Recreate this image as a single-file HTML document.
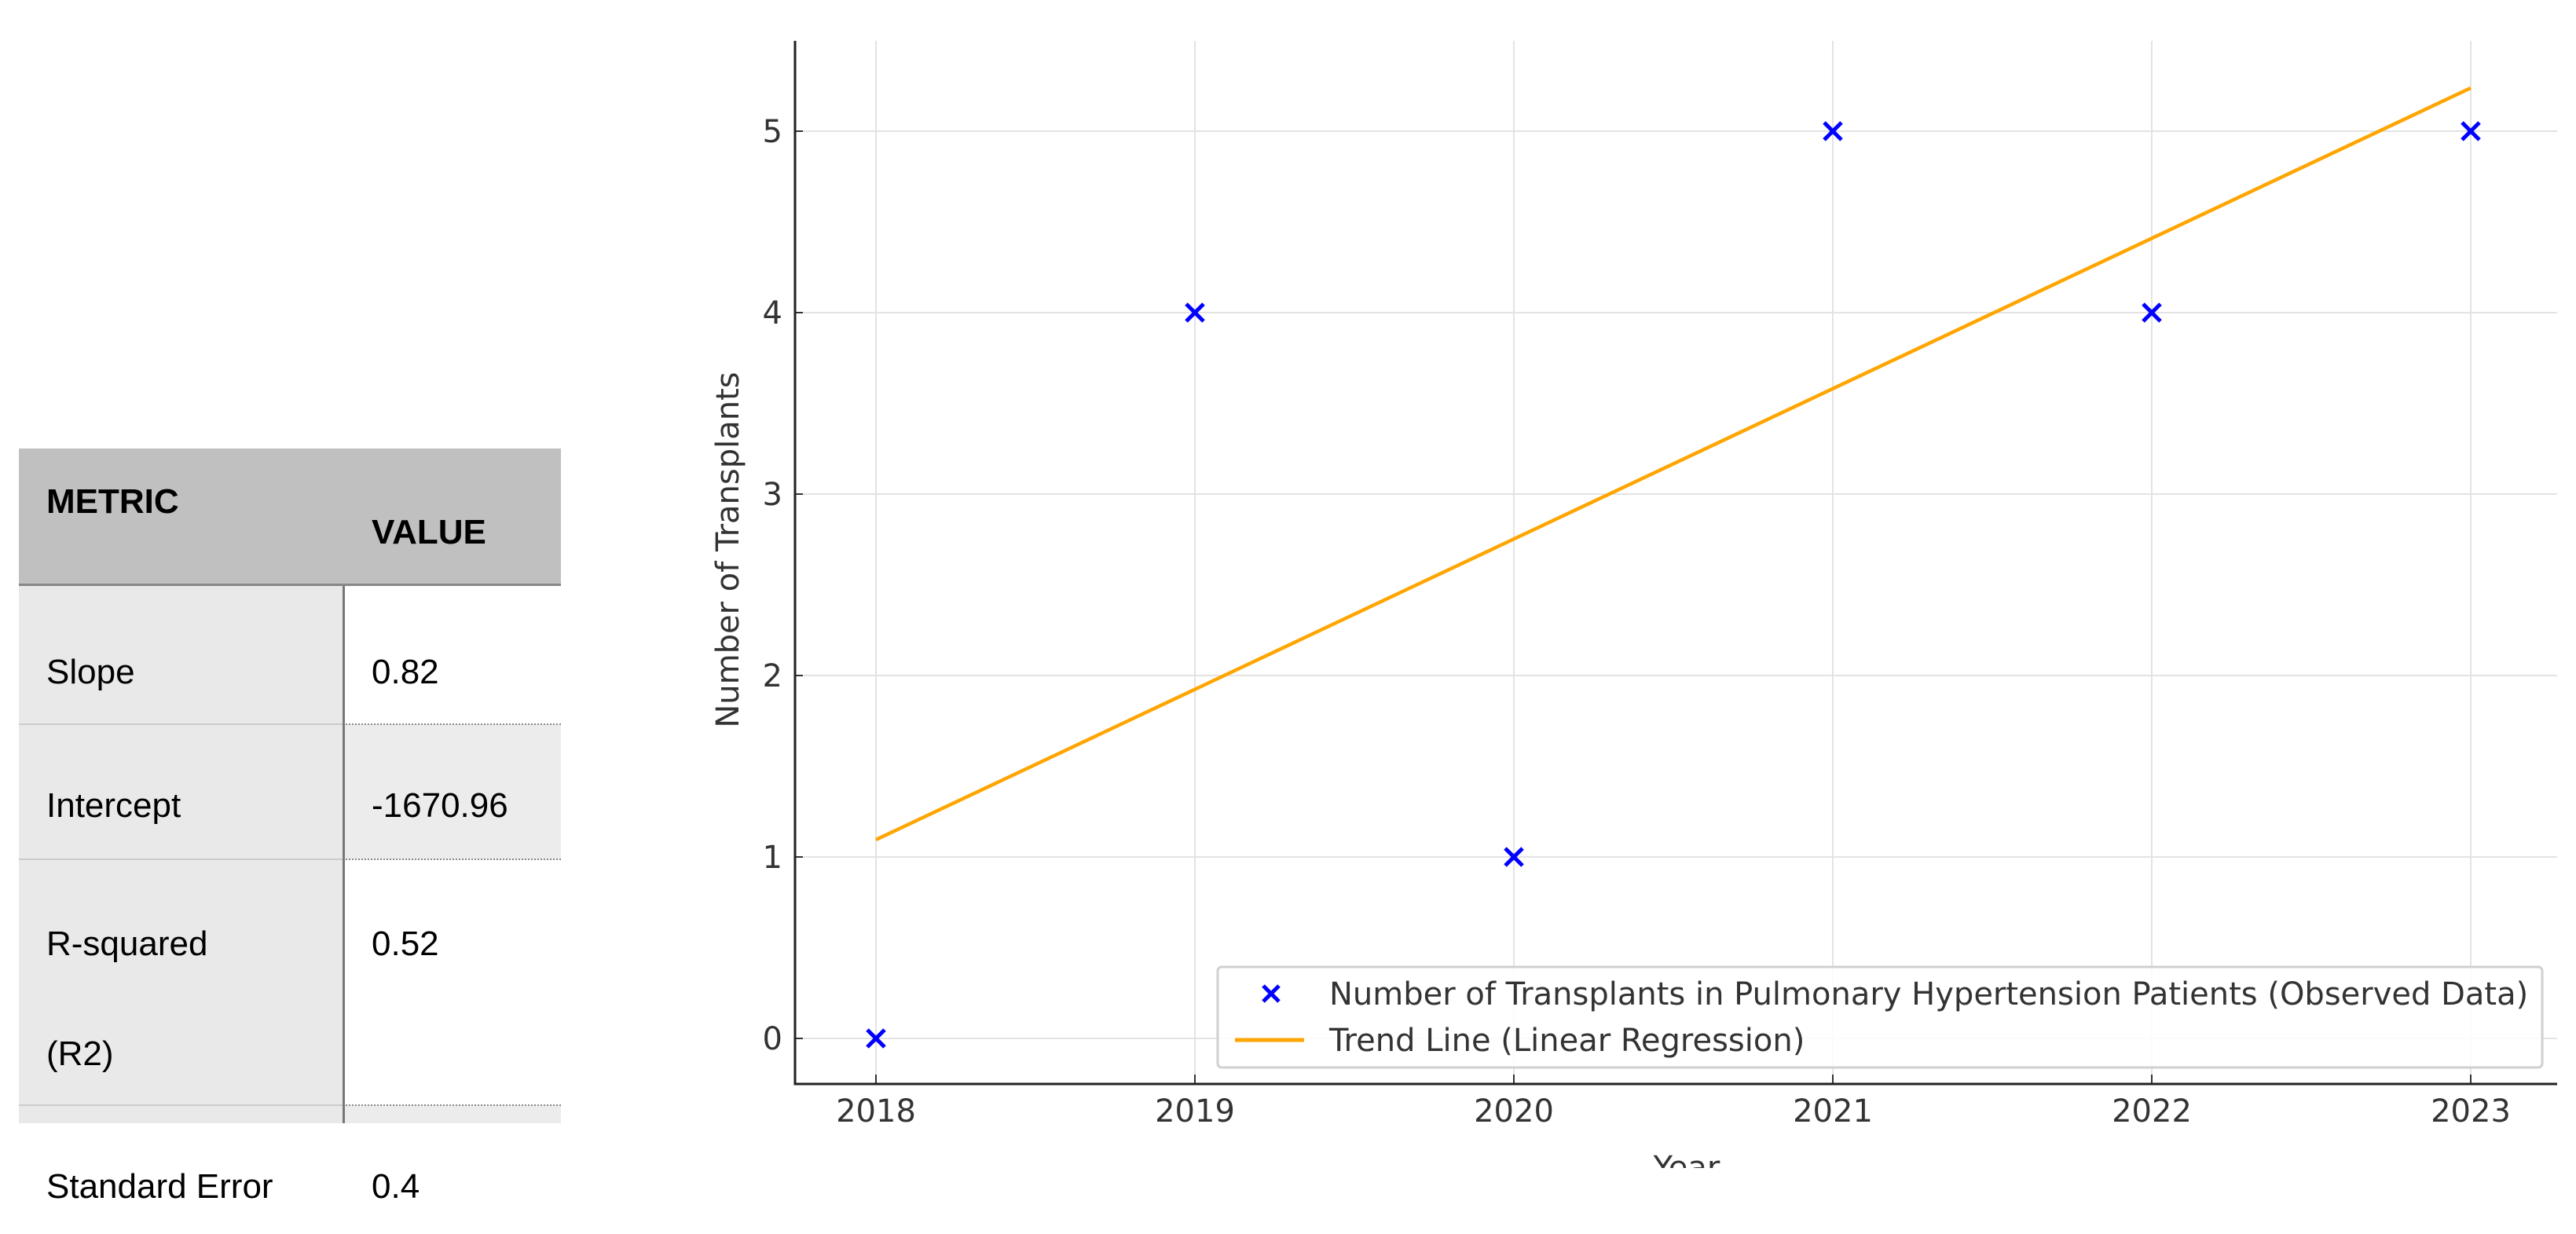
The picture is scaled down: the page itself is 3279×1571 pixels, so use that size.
<!DOCTYPE html>
<html><head><meta charset="utf-8"><style>
body{margin:0;width:3279px;height:1571px;background:#fff;position:relative;overflow:hidden;font-family:"Liberation Sans",Arial,sans-serif}
.t{position:absolute;font-size:44px;color:#000;line-height:1}
</style></head><body>
<div>
<div style="position:absolute;left:24px;top:571px;width:690px;height:172px;background:#c0c0c0;border-bottom:3px solid #888"></div>
<div style="position:absolute;left:24px;top:746px;width:413px;height:684px;background:#e9e9e9"></div>
<div style="position:absolute;left:437px;top:922px;width:277px;height:172px;background:#ececec"></div>
<div style="position:absolute;left:437px;top:1407px;width:277px;height:23px;background:#ececec"></div>
<div style="position:absolute;left:436px;top:746px;width:3px;height:684px;background:#777"></div>
<div style="position:absolute;left:24px;top:921px;width:412px;height:2px;background:#ccc"></div>
<div style="position:absolute;left:24px;top:1093px;width:412px;height:2px;background:#ccc"></div>
<div style="position:absolute;left:24px;top:1406px;width:412px;height:2px;background:#ccc"></div>
<div style="position:absolute;left:440px;top:921px;width:274px;border-top:2px dotted #888"></div>
<div style="position:absolute;left:440px;top:1093px;width:274px;border-top:2px dotted #888"></div>
<div style="position:absolute;left:440px;top:1406px;width:274px;border-top:2px dotted #888"></div>
<div class="t" style="left:59px;top:617px;font-weight:bold">METRIC</div>
<div class="t" style="left:473px;top:656px;font-weight:bold">VALUE</div>
<div class="t" style="left:59px;top:834px">Slope</div>
<div class="t" style="left:473px;top:834px">0.82</div>
<div class="t" style="left:59px;top:1004px">Intercept</div>
<div class="t" style="left:473px;top:1004px">-1670.96</div>
<div class="t" style="left:59px;top:1180px">R-squared</div>
<div class="t" style="left:473px;top:1180px">0.52</div>
<div class="t" style="left:59px;top:1320px">(R2)</div>
<div class="t" style="left:59px;top:1489px">Standard Error</div>
<div class="t" style="left:473px;top:1489px">0.4</div>
</div>
<svg id="chart" width="3279" height="1571" style="position:absolute;left:0;top:0" font-family="DejaVu Sans, Liberation Sans, sans-serif"></svg>
<script>
const years=[2018,2019,2020,2021,2022,2023];
const transplants=[0,4,1,5,4,5];
const yTicks=[0,1,2,3,4,5];
const xTickLabels=["2018","2019","2020","2021","2022","2023"];
const NS="http://www.w3.org/2000/svg";
const svg=document.getElementById('chart');
const X0=1012,X1=3255,Y0=1380,Y1=52;
const xs=v=>1115+(v-2018)*406;
const ys=v=>1322-v*231;
function el(tag,attrs,parent){const e=document.createElementNS(NS,tag);for(const k in attrs)e.setAttribute(k,attrs[k]);(parent||svg).appendChild(e);return e;}
years.forEach((y,i)=>{const g=el('line',{x1:xs(y),x2:xs(y),y1:Y1,y2:Y0,stroke:'#e3e3e3','stroke-width':2});


const tk=el('line',{x1:xs(y),x2:xs(y),y1:Y0-12,y2:Y0,stroke:'#333','stroke-width':2});


const t=el('text',{x:xs(y),y:1428,'text-anchor':'middle','font-size':40,fill:'#333'});t.textContent=xTickLabels[i];

});
yTicks.forEach(v=>{const g=el('line',{x1:X0,x2:X1,y1:ys(v),y2:ys(v),stroke:'#e3e3e3','stroke-width':2});


const tk=el('line',{x1:X0,x2:X0+10,y1:ys(v),y2:ys(v),stroke:'#333','stroke-width':2});


const t=el('text',{x:996,y:ys(v)+14,'text-anchor':'end','font-size':40,fill:'#333'});t.textContent=v;

});
const ax=el('path',{d:`M${X0} ${Y1}V${Y0}H${X1}`,fill:'none',stroke:'#222','stroke-width':3});


const n=years.length,mx=years.reduce((a,b)=>a+b)/n,my=transplants.reduce((a,b)=>a+b)/n;
let sxy=0,sxx=0;years.forEach((x,i)=>{sxy+=(x-mx)*(transplants[i]-my);sxx+=(x-mx)*(x-mx);});
const slope=sxy/sxx,ic=my-slope*mx;
const x0=years[0],x1=years[n-1];
const tl=el('line',{x1:xs(x0),y1:ys(slope*x0+ic),x2:xs(x1),y2:ys(slope*x1+ic),stroke:'#ffa500','stroke-width':4.5});


function cross(cx,cy,s){return el('path',{d:`M${cx-s} ${cy-s}L${cx+s} ${cy+s}M${cx+s} ${cy-s}L${cx-s} ${cy+s}`,stroke:'#0000ff','stroke-width':5});}
years.forEach((x,i)=>{const p=cross(xs(x),ys(transplants[i]),11);

});
const lg=el('rect',{x:1550,y:1231,width:1686,height:128,fill:'#fff','fill-opacity':0.85,stroke:'#d0d0d0','stroke-width':3,rx:5});


const lm=cross(1618,1265,10);


const lt1=el('text',{x:1692,y:1279,'font-size':40,fill:'#333'});lt1.textContent='Number of Transplants in Pulmonary Hypertension Patients (Observed Data)';


const ll=el('line',{x1:1572,x2:1660,y1:1324,y2:1324,stroke:'#ffa500','stroke-width':5});


const lt2=el('text',{x:1692,y:1338,'font-size':40,fill:'#333'});lt2.textContent='Trend Line (Linear Regression)';


const xt=el('text',{x:2147,y:1500,'text-anchor':'middle','font-size':40,fill:'#333'});xt.textContent='Year';


const yt=el('text',{x:0,y:0,'text-anchor':'middle','font-size':40,fill:'#333',transform:'translate(940,700) rotate(-90)'});yt.textContent='Number of Transplants';


const cb=el('rect',{x:1900,y:1487,width:500,height:84,fill:'#fff'});


</script>
</body></html>
